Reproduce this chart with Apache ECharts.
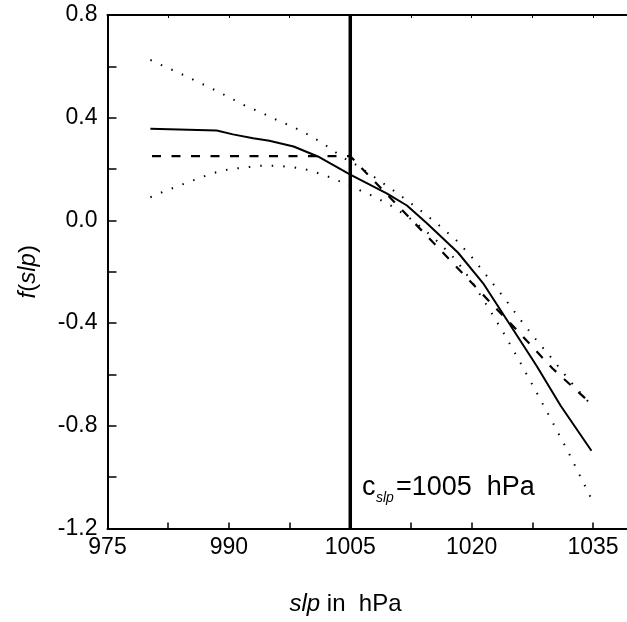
<!DOCTYPE html>
<html>
<head>
<meta charset="utf-8">
<script src="https://cdn.jsdelivr.net/npm/echarts@6/dist/echarts.min.js"></script>
<style>html,body{margin:0;padding:0;background:#fff}#c{width:627px;height:622px}</style>
</head>
<body>
<div id="c"></div>
<script>
// ---- data ----
const xTicks = [975, 990, 1005, 1020, 1035];
const yTicks = [-1.2, -0.8, -0.4, 0.0, 0.4, 0.8];
const threshold = 1005; // c_slp
const solid = [[980.3,0.357],[988.5,0.350],[990.5,0.335],[993,0.320],[995,0.310],[998,0.288],[1001,0.249],[1005,0.178],[1009.5,0.105],[1012,0.058],[1014.5,-0.012],[1018.3,-0.125],[1021.4,-0.244],[1024.5,-0.395],[1028,-0.565],[1031,-0.722],[1034.8,-0.897]];
const dashed = [[980.5,0.25],[1005,0.25],[1014.4,-0.058],[1018.7,-0.2],[1025.6,-0.428],[1030,-0.577],[1034.8,-0.715]];
const upper = [[980.3,0.625],[982,0.6],[984,0.572],[986,0.542],[988,0.512],[990,0.48],[992,0.447],[994,0.42],[996,0.39],[998,0.363],[1000,0.331],[1002,0.292],[1004,0.247],[1006,0.211],[1008,0.168],[1010,0.124],[1012,0.078],[1014,0.031],[1016,-0.02],[1018,-0.074],[1020,-0.142],[1022,-0.221],[1024,-0.301],[1026,-0.386],[1028,-0.466],[1030,-0.541],[1032,-0.62],[1034.8,-0.72]];
const lower = [[980.3,0.09],[982,0.113],[984,0.137],[986,0.161],[988,0.184],[990,0.199],[992,0.206],[994,0.213],[996,0.213],[998,0.207],[1000,0.195],[1002,0.174],[1004,0.148],[1006,0.12],[1008,0.092],[1010,0.058],[1012,0.017],[1014,-0.033],[1016,-0.088],[1018,-0.152],[1020,-0.237],[1022,-0.337],[1024,-0.441],[1026,-0.553],[1028,-0.669],[1030,-0.786],[1032,-0.906],[1034.8,-1.085]];
const yRange = [-1.2, 0.8];
const xRange = [975, 1040];

const FONT = 'Liberation Sans, Arial, sans-serif';
const chart = echarts.init(document.getElementById('c'), null, {renderer: 'canvas'});

const xTickSet = new Set(xTicks.map(String));
const yTickSet = new Set(yTicks.map(v => v.toFixed(1)));

const baseX = {
  type: 'value', min: xRange[0], max: xRange[1], interval: 7.5,
  splitLine: {show: false},
  axisLine: {onZero: false, lineStyle: {color: '#000', width: 2}},
  axisTick: {inside: true, length: 6, lineStyle: {color: '#000', width: 1.5}}
};

chart.setOption({
  animation: false,
  backgroundColor: '#fff',
  grid: {left: 107.5, width: 526, top: 15, height: 513.5, containLabel: false, outerBoundsMode: 'none'},
  xAxis: [
    Object.assign({}, baseX, {
      position: 'bottom',
      axisLabel: {
        color: '#000', fontFamily: FONT, fontSize: 23, margin: 8,
        formatter: v => xTickSet.has(String(v)) ? String(v) : ''
      },
      name: '{i|slp} in  hPa',
      nameLocation: 'middle', nameGap: 64,
      nameTextStyle: {color: '#000', fontFamily: FONT, fontSize: 24, padding: [0, 50, 0, 0],
        rich: {i: {fontStyle: 'italic', fontFamily: FONT, fontSize: 24, color: '#000'}}}
    }),
    Object.assign({}, baseX, {
      position: 'top',
      axisTick: {inside: true, length: 3, lineStyle: {color: '#000', width: 1}},
      axisLabel: {show: false}
    })
  ],
  yAxis: {
    type: 'value', min: yRange[0], max: yRange[1], interval: 0.2,
    splitLine: {show: false},
    axisLine: {onZero: false, lineStyle: {color: '#000', width: 2}},
    axisTick: {inside: true, length: 9, lineStyle: {color: '#000', width: 1.5}},
    axisLabel: {
      color: '#000', fontFamily: FONT, fontSize: 23, margin: 10,
      formatter: v => { const s = (Math.abs(v) < 1e-9 ? 0 : v).toFixed(1); return yTickSet.has(s) ? s : ''; }
    },
    name: '{i|f}({i|slp})',
    nameLocation: 'middle', nameRotate: 90, nameGap: 67,
    nameTextStyle: {color: '#000', fontFamily: FONT, fontSize: 24,
      rich: {i: {fontStyle: 'italic', fontFamily: FONT, fontSize: 24, color: '#000'}}}
  },
  series: [
    {type: 'line', data: [[threshold, yRange[1]], [threshold, yRange[0]]], symbol: 'none',
      lineStyle: {color: '#000', width: 3.5}, z: 3},
    {type: 'line', data: solid, symbol: 'none', lineStyle: {color: '#000', width: 2}},
    {type: 'line', data: dashed, symbol: 'none', lineStyle: {color: '#000', width: 2.2, type: [9, 10.5]}},
    {type: 'line', data: upper, symbol: 'none', lineStyle: {color: '#000', width: 2, type: [1.5, 10]}},
    {type: 'line', data: lower, symbol: 'none', lineStyle: {color: '#000', width: 2, type: [1.5, 10]}}
  ],
  graphic: [
    {type: 'text', left: 362, top: 474, style: {text: 'c', font: '27px ' + FONT, fill: '#000'}},
    {type: 'text', left: 376, top: 491, style: {text: 'slp', font: 'italic 14px ' + FONT, fill: '#000'}},
    {type: 'text', left: 396, top: 474, style: {text: '=1005  hPa', font: '27px ' + FONT, fill: '#000'}}
  ]
});
</script>
</body>
</html>
